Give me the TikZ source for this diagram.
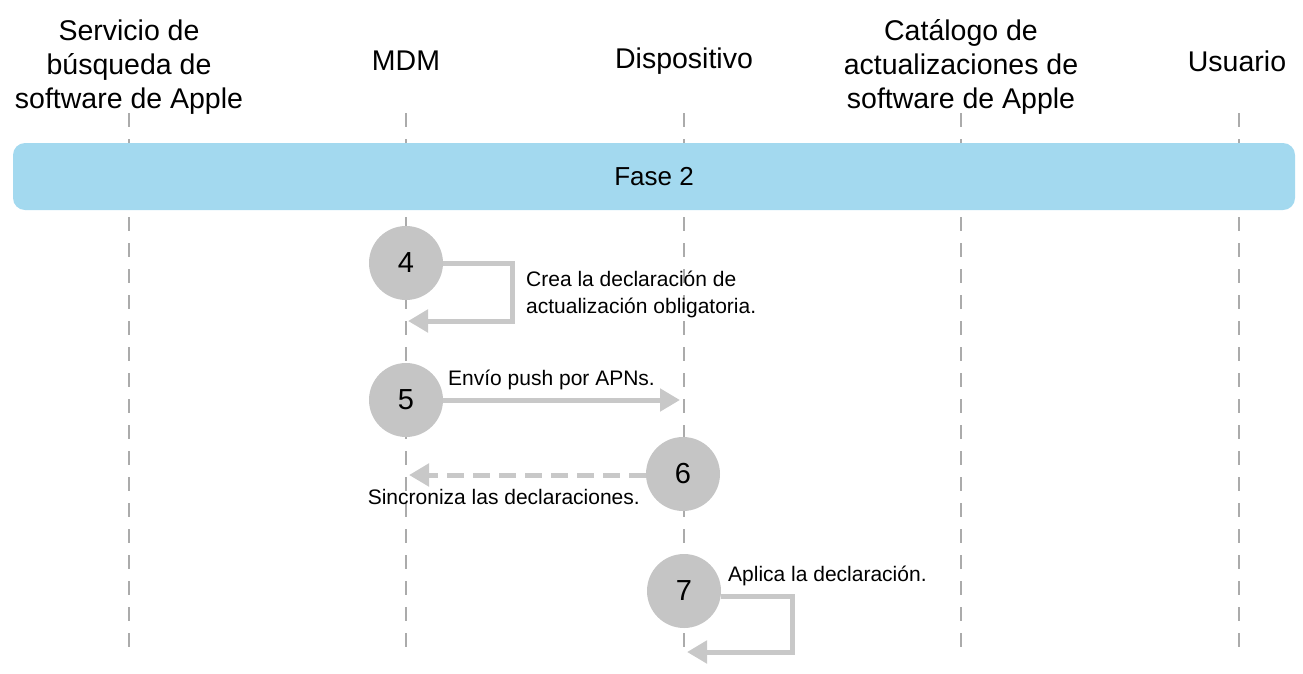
\documentclass[tikz,border=0pt]{standalone}
\usepackage{fontspec}
\setmainfont{Liberation Sans}
\usetikzlibrary{arrows.meta}
\definecolor{band}{HTML}{A3D9EF}
\definecolor{circ}{HTML}{C5C5C5}
\definecolor{arr}{HTML}{C8C8C8}
\definecolor{life}{HTML}{ABABAB}
\tikzset{
  header/.style={font=\fontsize{28.5}{34}\selectfont, align=center, text=black},
  lifeline/.style={draw=life, line width=1.1pt, dash pattern=on 14pt off 12pt},
  stepcirc/.style={circle, fill=circ, minimum size=74pt, inner sep=0pt, font=\fontsize{29}{32}\selectfont},
  label/.style={font=\fontsize{21}{27}\selectfont, align=left, inner sep=0pt},
  msg/.style={draw=arr, line width=5pt, -{Triangle[length=20pt,width=22pt]}},
  dmsg/.style={msg, dash pattern=on 17pt off 9pt},
}
\begin{document}
\begin{tikzpicture}[x=1pt,y=-1pt]
\useasboundingbox (0,0) rectangle (1303,673);
% lifelines
\foreach \x/\n in {129/l1,406/l2,684/l3,961/l4,1239/l5}{
  \coordinate (\n top) at (\x,113);
  \coordinate (\n bot) at (\x,653);
  \draw[lifeline] (\n top) -- (\n bot);
}
% headers
\node[header] (h1) at (129,67) {Servicio de\\búsqueda de\\software de Apple};
\node[header] (h2) at (406,61) {MDM};
\node[header] (h3) at (684,61) {Dispositivo};
\node[header] (h4) at (961,67) {Catálogo de\\actualizaciones de\\software de Apple};
\node[header] (h5) at (1237,61) {Usuario};
% band
\node[fill=band, rounded corners=12pt, minimum width=1282pt, minimum height=67pt, inner sep=0pt,
      font=\fontsize{26}{30}\selectfont] (fase) at (654,176.5) {Fase 2};
% steps
\node[stepcirc] (c4) at (406,263) {4};
\node[stepcirc] (c5) at (406,400) {5};
\node[stepcirc] (c6) at (683,474) {6};
\node[stepcirc] (c7) at (684,591) {7};
% step 4 loop
\coordinate (a4) at (512,263);
\coordinate (b4) at (512,321);
\coordinate (e4) at (408,321);
\draw[msg] (c4.east) -- (a4) -- (b4) -- (e4);
\node[label, anchor=west] (t4) at (526,294) {Crea la declaración de\\actualización obligatoria.};
% step 5
\coordinate (e5) at (680,400);
\draw[msg] (c5.east) -- (e5);
\node[label, anchor=west] (t5) at (448,380) {Envío push por APNs.};
% step 6
\coordinate (e6) at (409,475);
\draw[dmsg] (c6.west |- e6) -- (e6);
\node[label, anchor=east] (t6) at (640,497) {Sincroniza las declaraciones.};
% step 7 loop
\coordinate (a7) at (792,596);
\coordinate (b7) at (792,652);
\coordinate (e7) at (687,652);
\draw[msg] (c7.east |- a7) -- (a7) -- (b7) -- (e7);
\node[label, anchor=west] (t7) at (728,576) {Aplica la declaración.};
\end{tikzpicture}
\end{document}
